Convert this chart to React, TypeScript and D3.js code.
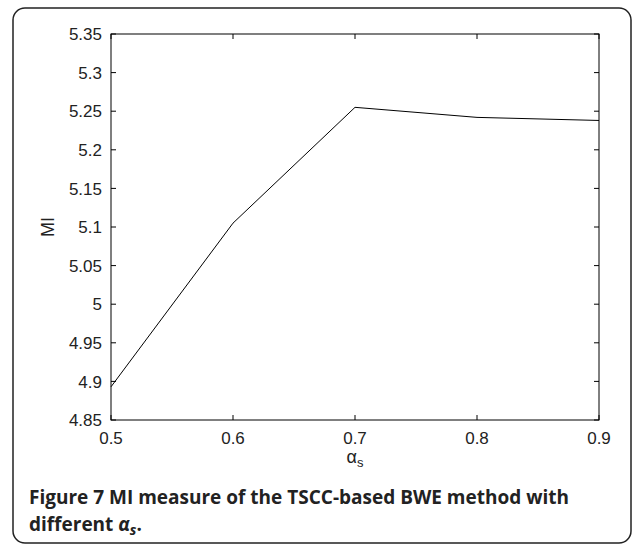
import * as d3 from "d3";
import React from "react";

const alphaValues = [0.5, 0.6, 0.7, 0.8, 0.9];
const miValues = [4.893, 5.105, 5.255, 5.242, 5.238];
const yTicks = [4.85, 4.9, 4.95, 5, 5.05, 5.1, 5.15, 5.2, 5.25, 5.3, 5.35];

const width = 634;
const height = 547;
const margin = { left: 111, right: 35, top: 34, bottom: 127 };

function fmt(v) {
  return d3.format("")(+v.toFixed(2));
}

export default function App() {
  const x = d3
    .scaleLinear()
    .domain([0.5, 0.9])
    .range([margin.left, width - margin.right]);
  const y = d3
    .scaleLinear()
    .domain([4.85, 5.35])
    .range([height - margin.bottom, margin.top]);

  const line = d3
    .line()
    .x((d) => x(d[0]))
    .y((d) => y(d[1]));
  const pts = alphaValues.map((a, i) => [a, miValues[i]]);

  const x0 = x.range()[0];
  const x1 = x.range()[1];
  const y0 = y.range()[0];
  const y1 = y.range()[1];
  const tick = 5;
  const font = "'Liberation Sans', Arial, sans-serif";
  const capFont = "'Open Sans', 'Noto Sans', sans-serif";

  return (
    <svg
      width={width}
      height={height}
      style={{ position: "absolute", left: 0, top: 0, background: "#fff" }}
    >
      <rect
        x={13}
        y={8}
        width={618}
        height={535}
        rx={12}
        fill="none"
        stroke="#222"
        strokeWidth={1.5}
      />
      <path d={line(pts)} fill="none" stroke="#000" strokeWidth={1} />
      <rect
        x={x0}
        y={y1}
        width={x1 - x0}
        height={y0 - y1}
        fill="none"
        stroke="#000"
        strokeWidth={1}
      />
      {yTicks.map((t) => (
        <g key={t}>
          <line x1={x0} x2={x0 + tick} y1={y(t)} y2={y(t)} stroke="#000" />
          <line x1={x1} x2={x1 - tick} y1={y(t)} y2={y(t)} stroke="#000" />
          <text
            x={x0 - 9}
            y={y(t)}
            dy="0.36em"
            textAnchor="end"
            fontFamily={font}
            fontSize={17}
            fill="#222"
          >
            {fmt(t)}
          </text>
        </g>
      ))}
      {alphaValues.map((t) => (
        <g key={t}>
          <line x1={x(t)} x2={x(t)} y1={y0} y2={y0 - tick} stroke="#000" />
          <line x1={x(t)} x2={x(t)} y1={y1} y2={y1 + tick} stroke="#000" />
          <text
            x={x(t)}
            y={y0 + 18}
            dy="0.36em"
            textAnchor="middle"
            fontFamily={font}
            fontSize={17}
            fill="#222"
          >
            {fmt(t)}
          </text>
        </g>
      ))}
      <text
        x={(x0 + x1) / 2}
        y={y0 + 43}
        textAnchor="middle"
        fontFamily={font}
        fontSize={18}
        fill="#222"
      >
        α<tspan fontSize={13} dy={4}>s</tspan>
      </text>
      <text
        transform={`translate(54,${(y0 + y1) / 2}) rotate(-90)`}
        textAnchor="middle"
        fontFamily={font}
        fontSize={18}
        fill="#222"
      >
        MI
      </text>
      <text
        x={29}
        y={504}
        fontFamily={capFont}
        fontWeight="bold"
        fontSize={19}
        fill="#222"
      >
        Figure 7 MI measure of the TSCC-based BWE method with
      </text>
      <text
        x={29}
        y={531}
        fontFamily={capFont}
        fontWeight="bold"
        fontSize={19}
        fill="#222"
      >
        different <tspan fontStyle="italic">α<tspan fontSize={14} dy={4}>s</tspan></tspan>
        <tspan dy={-4}>.</tspan>
      </text>
    </svg>
  );
}
